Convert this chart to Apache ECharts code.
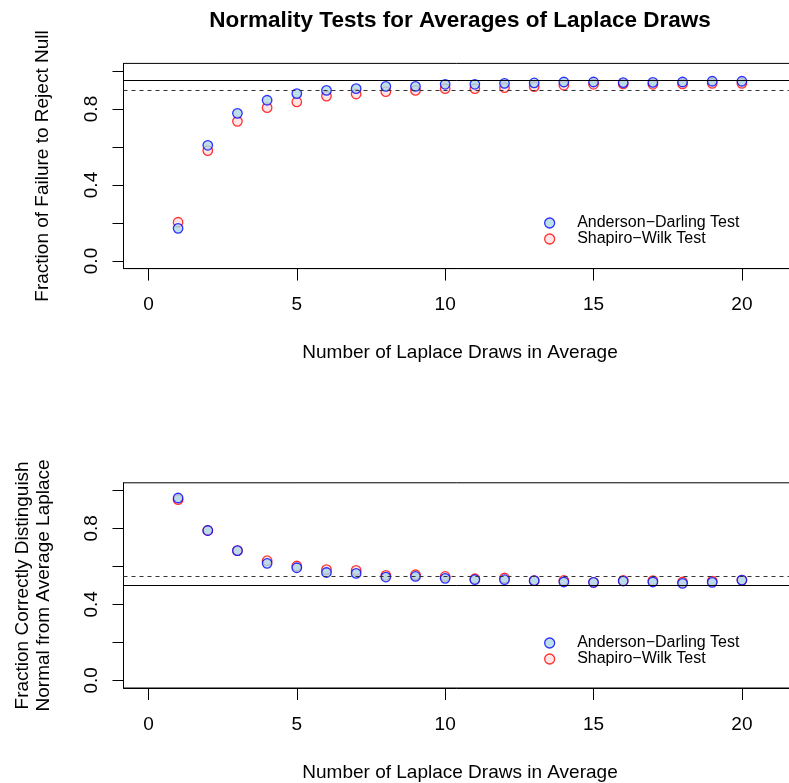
<!DOCTYPE html>
<html>
<head>
<meta charset="utf-8">
<script src="https://cdn.jsdelivr.net/npm/echarts@6/dist/echarts.min.js"></script>
<style>html,body{margin:0;padding:0;background:#fff}#c{width:789px;height:783px}</style>
</head>
<body>
<div id="c"></div>
<script>
// Data
var draws = [1,2,3,4,5,6,7,8,9,10,11,12,13,14,15,16,17,18,19,20];
var adTop = [0.172,0.609,0.777,0.846,0.881,0.898,0.907,0.919,0.919,0.930,0.930,0.935,0.937,0.942,0.942,0.939,0.940,0.942,0.946,0.946];
var swTop = [0.204,0.581,0.735,0.807,0.837,0.868,0.879,0.891,0.898,0.907,0.907,0.912,0.918,0.925,0.930,0.932,0.930,0.932,0.935,0.935];
var adBot = [0.960,0.789,0.683,0.616,0.593,0.568,0.563,0.544,0.547,0.537,0.530,0.530,0.525,0.518,0.516,0.523,0.518,0.511,0.516,0.528];
var swBot = [0.951,0.789,0.683,0.630,0.602,0.583,0.579,0.553,0.556,0.547,0.535,0.539,0.525,0.526,0.516,0.526,0.525,0.518,0.523,0.528];
var refTop = [0.95, 0.90];
var refBot = [0.50, 0.55];
var xTicks = [0,5,10,15,20];
var yTicks = [0,0.2,0.4,0.6,0.8,1.0];
var yLabels = [0,0.4,0.8];
var nameAD = 'Anderson\u2212Darling Test';
var nameSW = 'Shapiro\u2212Wilk Test';
var mainTitle = 'Normality Tests for Averages of Laplace Draws';
var xTitle = 'Number of Laplace Draws in Average';
var yTitleTop = 'Fraction of Failure to Reject Null';
var yTitleBot = 'Fraction Correctly Distinguish\nNormal from Average Laplace';

function pairs(ys){ return draws.map(function(x,i){ return [x, ys[i]]; }); }

var FONT = 'Liberation Sans, Arial, Helvetica, sans-serif';
var blueStyle = {color:'#add8e6', borderColor:'#0000ff', borderWidth:1.3};
var redStyle = {color:'#ffe0e0', borderColor:'#ff0000', borderWidth:1.3};

function xAxisCfg(gi){
  return {
    type:'value', gridIndex:gi, min:-0.84, max:21.84,
    axisLine:{show:true, onZero:false, lineStyle:{color:'#000', width:1}},
    axisTick:{show:true, customValues:xTicks, length:12, lineStyle:{color:'#000'}},
    axisLabel:{show:true, customValues:xTicks, color:'#000', fontFamily:FONT, fontSize:19, margin:27},
    splitLine:{show:false},
    name:xTitle, nameLocation:'middle', nameGap:75,
    nameTextStyle:{color:'#000', fontFamily:FONT, fontSize:19}
  };
}
function yAxisCfg(gi, title, gap){
  return {
    type:'value', gridIndex:gi, min:-0.04, max:1.04,
    axisLine:{show:true, onZero:false, lineStyle:{color:'#000', width:1}},
    axisTick:{show:true, customValues:yTicks, length:11, lineStyle:{color:'#000'}},
    axisLabel:{show:true, customValues:yLabels, rotate:90, color:'#000', fontFamily:FONT, fontSize:19, margin:22,
      formatter:function(v){ return Number(v).toFixed(1); }},
    splitLine:{show:false},
    name:title, nameLocation:'middle', nameGap:gap,
    nameTextStyle:{color:'#000', fontFamily:FONT, fontSize:19, lineHeight:21}
  };
}
function refLines(vals){
  return {
    silent:true, symbol:'none', animation:false,
    label:{show:false},
    data:[
      {yAxis:vals[0], lineStyle:{type:'solid', color:'#000', width:1}},
      {yAxis:vals[1], lineStyle:{type:[4,4], color:'#333', width:1}}
    ]
  };
}
function legendCfg(top){
  return {
    orient:'vertical', left:539, top:top, itemWidth:45, itemHeight:10, itemGap:0,
    selectedMode:false,
    textStyle:{color:'#000', fontFamily:FONT, fontSize:16, lineHeight:15.6},
    data:[
      {name:nameAD, icon:'circle', itemStyle:blueStyle},
      {name:nameSW, icon:'circle', itemStyle:redStyle}
    ]
  };
}

var chart = echarts.init(document.getElementById('c'), null, {renderer:'canvas'});
chart.setOption({
  animation:false,
  backgroundColor:'#fff',
  title:{text:mainTitle, left:455, textAlign:'center', top:4,
    textStyle:{color:'#000', fontFamily:FONT, fontSize:22.5, fontWeight:'bold'}},
  legend:[legendCfg(210), legendCfg(630)],
  grid:[
    {left:123.5, top:63.4, width:673, height:205.2, show:true, borderColor:'#000', borderWidth:1, backgroundColor:'transparent', outerBoundsMode:'none', containLabel:false},
    {left:123.5, top:482.8, width:673, height:205.2, show:true, borderColor:'#000', borderWidth:1, backgroundColor:'transparent', outerBoundsMode:'none', containLabel:false}
  ],
  xAxis:[xAxisCfg(0), xAxisCfg(1)],
  yAxis:[yAxisCfg(0, yTitleTop, 70), yAxisCfg(1, yTitleBot, 69)],
  series:[
    {type:'scatter', name:nameSW, xAxisIndex:0, yAxisIndex:0, data:pairs(swTop), symbol:'circle', symbolSize:9.5, itemStyle:redStyle, markLine:refLines(refTop)},
    {type:'scatter', name:nameAD, xAxisIndex:0, yAxisIndex:0, data:pairs(adTop), symbol:'circle', symbolSize:9.5, itemStyle:blueStyle},
    {type:'scatter', name:nameSW, xAxisIndex:1, yAxisIndex:1, data:pairs(swBot), symbol:'circle', symbolSize:9.5, itemStyle:redStyle, markLine:refLines(refBot)},
    {type:'scatter', name:nameAD, xAxisIndex:1, yAxisIndex:1, data:pairs(adBot), symbol:'circle', symbolSize:9.5, itemStyle:blueStyle}
  ]
});
</script>
</body>
</html>
